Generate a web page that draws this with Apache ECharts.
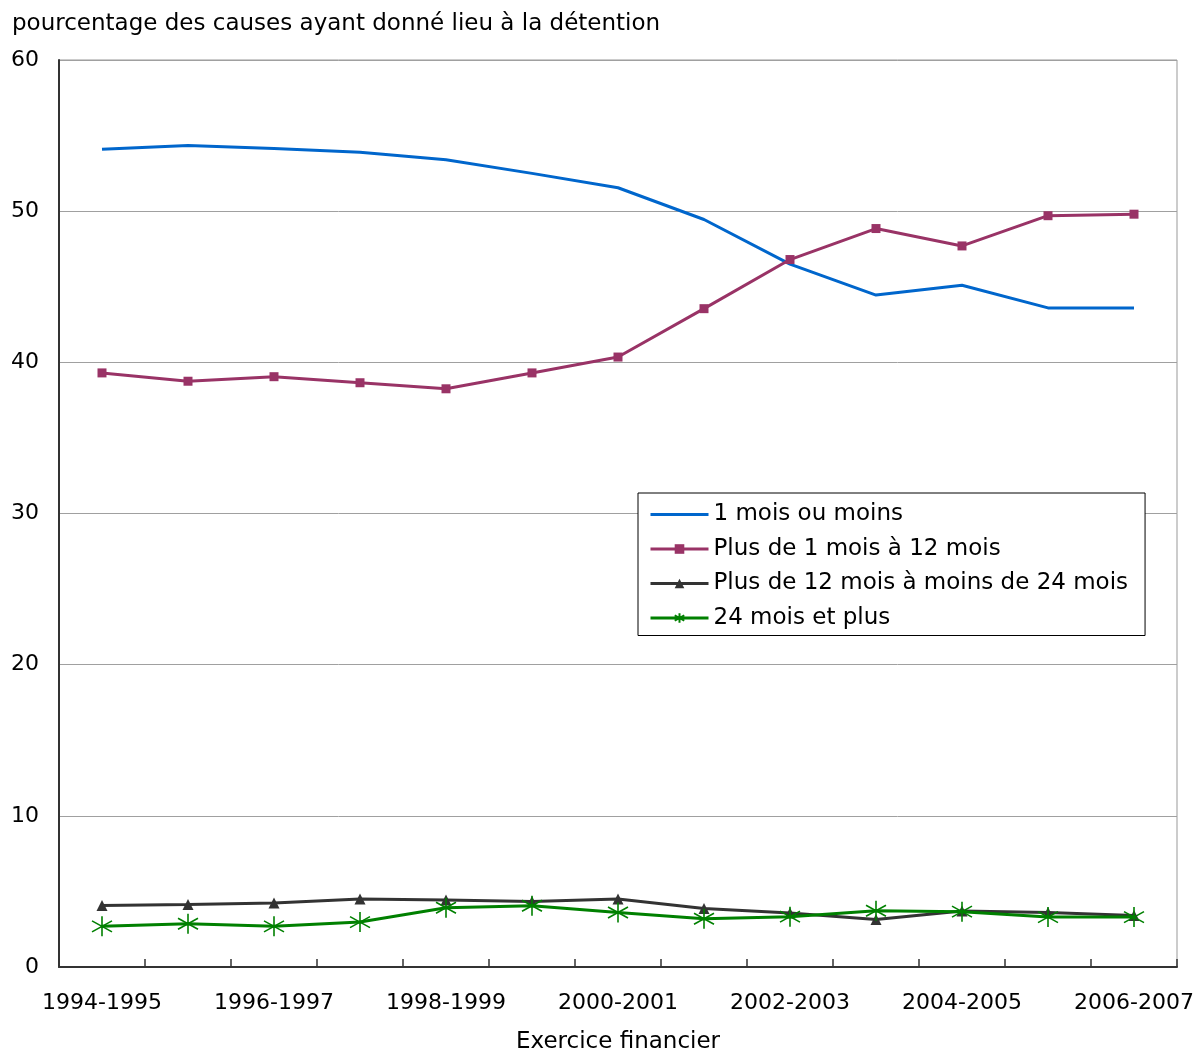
<!DOCTYPE html>
<html>
<head>
<meta charset="utf-8">
<script src="https://cdn.jsdelivr.net/npm/echarts@6/dist/echarts.min.js"></script>
<style>
html,body{margin:0;padding:0;background:#fff;overflow:hidden;}
#chart{position:absolute;left:0;top:0;width:1197px;height:1053px;}
</style>
</head>
<body>
<div id="chart"></div>
<script>
const categories = ['1994-1995','1995-1996','1996-1997','1997-1998','1998-1999','1999-2000','2000-2001','2001-2002','2002-2003','2003-2004','2004-2005','2005-2006','2006-2007'];
const unMoisOuMoins = [54.1, 54.35, 54.15, 53.9, 53.4, 52.5, 51.55, 49.45, 46.5, 44.45, 45.1, 43.6, 43.6];
const plus1a12 = [39.3, 38.75, 39.05, 38.65, 38.25, 39.3, 40.35, 43.55, 46.8, 48.85, 47.7, 49.7, 49.8];
const plus12a24 = [4.07, 4.14, 4.23, 4.5, 4.43, 4.34, 4.5, 3.87, 3.58, 3.15, 3.7, 3.6, 3.4];
const plus24 = [2.69, 2.86, 2.69, 2.97, 3.92, 4.05, 3.61, 3.19, 3.33, 3.72, 3.66, 3.3, 3.3];
const seriesNames = ['1 mois ou moins','Plus de 1 mois à 12 mois','Plus de 12 mois à moins de 24 mois','24 mois et plus'];
const yTicks = [0, 10, 20, 30, 40, 50, 60];

const FONT = 'DejaVu Sans';
const starPath = 'path://M10,0L10,20M1.5,4.5L18.5,15.5M1.5,15.5L18.5,4.5';

const el = document.getElementById('chart');
const chart = echarts.init(el, null, {renderer:'canvas', width:1197, height:1053});
chart.setOption({
  animation: false,
  backgroundColor: '#fff',
  textStyle: {fontFamily: FONT, color: '#000'},
  title: {
    text: 'pourcentage des causes ayant donné lieu à la détention',
    left: 7, top: 8,
    textStyle: {fontFamily: FONT, fontSize: 23, fontWeight: 'normal', color: '#000'}
  },
  grid: {left: 59, right: 20, top: 60, bottom: 86, show: true, borderColor: '#999', borderWidth: 1,
         containLabel: false, outerBoundsMode: 'none'},
  legend: {
    orient: 'vertical',
    left: 638, top: 493,
    padding: [9, 17, 5, 11],
    backgroundColor: '#fff',
    borderColor: '#000', borderWidth: 1,
    itemWidth: 58, itemHeight: 12, itemGap: 9.5,
    lineStyle: {width: 3},
    textStyle: {fontFamily: FONT, fontSize: 23, color: '#000', lineHeight: 25, padding: [0,0,0,0]},
    data: [
      {name: seriesNames[0], itemStyle: {color: 'rgba(0,0,0,0)', borderWidth: 0}},
      {name: seriesNames[1]},
      {name: seriesNames[2]},
      {name: seriesNames[3]}
    ]
  },
  xAxis: {
    type: 'category',
    data: categories,
    boundaryGap: true,
    name: 'Exercice financier',
    nameLocation: 'middle',
    nameGap: 64,
    nameTextStyle: {fontFamily: FONT, fontSize: 23, color: '#000'},
    axisLine: {lineStyle: {color: '#333', width: 2}},
    axisTick: {show: true, inside: true, length: 8, interval: 0, lineStyle: {color: '#333', width: 1.5}},
    axisLabel: {interval: 1, margin: 25, fontFamily: FONT, fontSize: 22, color: '#000'},
    splitLine: {show: false}
  },
  yAxis: {
    type: 'value',
    min: yTicks[0], max: yTicks[yTicks.length-1], interval: 10,
    axisLine: {show: true, lineStyle: {color: '#333', width: 2}},
    axisTick: {show: false},
    axisLabel: {margin: 20, fontFamily: FONT, fontSize: 22, color: '#000'},
    splitLine: {show: true, lineStyle: {color: '#a0a0a0', width: 1}}
  },
  series: [
    {name: seriesNames[0], type: 'line', data: unMoisOuMoins, symbol: 'none', showSymbol: false,
     lineStyle: {color: '#0066CC', width: 3}, itemStyle: {color: '#0066CC'}, z: 3},
    {name: seriesNames[1], type: 'line', data: plus1a12, symbol: 'rect', symbolSize: 9,
     lineStyle: {color: '#993366', width: 3}, itemStyle: {color: '#993366'}, z: 3},
    {name: seriesNames[2], type: 'line', data: plus12a24, symbol: 'triangle', symbolSize: 11,
     lineStyle: {color: '#333333', width: 3}, itemStyle: {color: '#333333'}, z: 3},
    {name: seriesNames[3], type: 'line', data: plus24, symbol: starPath, symbolSize: 20,
     lineStyle: {color: '#008000', width: 3},
     itemStyle: {color: 'rgba(0,0,0,0)', borderColor: '#008000', borderWidth: 1.6}, z: 4}
  ]
});
</script>
</body>
</html>
